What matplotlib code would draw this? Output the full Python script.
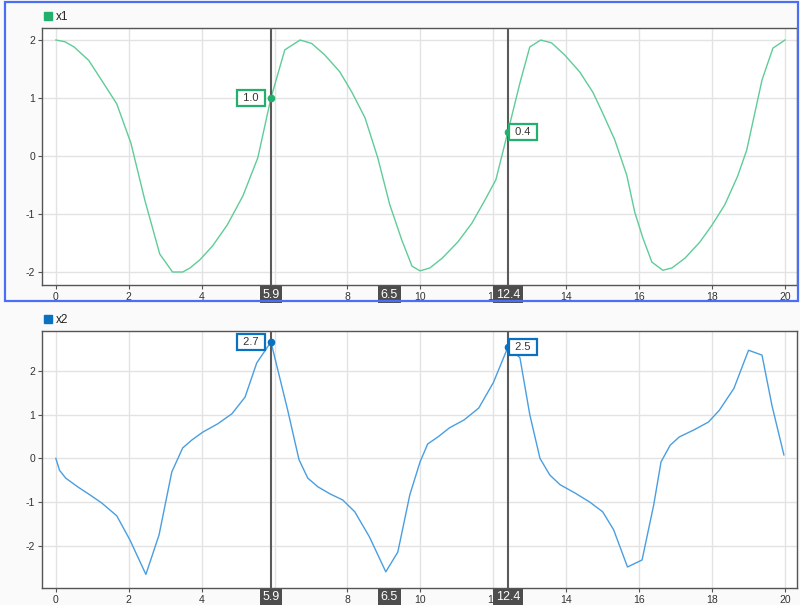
import numpy as np
import matplotlib
matplotlib.use("Agg")
from matplotlib import pyplot as plt
from matplotlib.lines import Line2D
from matplotlib.patches import Rectangle

plt.rcParams['font.family'] = ['Liberation Sans', 'DejaVu Sans']
plt.rcParams['axes.unicode_minus'] = False

# x1 信号
t1 = [0, 0.25, 0.5, 0.9, 1.2, 1.67, 2.06, 2.44, 2.85, 3.2, 3.48, 3.68, 3.95, 4.3, 4.7,
      5.13, 5.54, 5.9, 6.28, 6.7, 7.02, 7.38, 7.79, 8.12, 8.48, 8.83, 9.16, 9.49, 9.77,
      9.99, 10.26, 10.6, 11.03, 11.41, 11.77, 12.07, 12.4, 12.73, 13.0, 13.3, 13.6, 13.96,
      14.37, 14.73, 15.0, 15.33, 15.66, 15.88, 16.1, 16.35, 16.65, 16.9, 17.26, 17.67,
      18.0, 18.35, 18.7, 18.95, 19.37, 19.67, 20.0]
x1 = [2.0, 1.97, 1.88, 1.65, 1.36, 0.9, 0.22, -0.76, -1.69, -2.0, -2.0, -1.93, -1.79,
      -1.55, -1.19, -0.69, -0.03, 1.0, 1.83, 2.0, 1.94, 1.74, 1.45, 1.1, 0.66, -0.03,
      -0.84, -1.45, -1.9, -1.98, -1.93, -1.76, -1.48, -1.16, -0.76, -0.41, 0.42, 1.26,
      1.88, 2.0, 1.95, 1.74, 1.45, 1.1, 0.74, 0.28, -0.33, -0.97, -1.41, -1.83, -1.97,
      -1.93, -1.76, -1.48, -1.19, -0.84, -0.35, 0.1, 1.31, 1.86, 2.0]

# x2 信号
t2 = [0, 0.1, 0.27, 0.6, 0.93, 1.26, 1.67, 2.03, 2.47, 2.83, 3.18, 3.48, 3.73, 4.03,
      4.44, 4.83, 5.19, 5.51, 5.9, 6.36, 6.67, 6.91, 7.19, 7.52, 7.87, 8.2, 8.6, 9.05,
      9.38, 9.71, 9.99, 10.2, 10.48, 10.8, 11.2, 11.6, 12.0, 12.4, 12.73, 13.0, 13.28,
      13.55, 13.83, 14.24, 14.65, 15.0, 15.3, 15.68, 16.08, 16.4, 16.6, 16.85, 17.1,
      17.5, 17.9, 18.2, 18.6, 19.0, 19.37, 19.64, 19.97]
x2 = [0, -0.27, -0.45, -0.65, -0.83, -1.02, -1.31, -1.86, -2.65, -1.75, -0.31, 0.24,
      0.42, 0.6, 0.79, 1.02, 1.4, 2.18, 2.66, 1.1, -0.03, -0.45, -0.65, -0.81, -0.95,
      -1.22, -1.79, -2.59, -2.14, -0.83, -0.08, 0.33, 0.49, 0.7, 0.88, 1.15, 1.73, 2.54,
      2.3, 1.0, 0.0, -0.38, -0.6, -0.79, -1.0, -1.22, -1.63, -2.48, -2.32, -1.06, -0.08,
      0.3, 0.49, 0.65, 0.83, 1.1, 1.6, 2.47, 2.36, 1.22, 0.08]

# 游标位置及其读数
cursor_t = [5.9, 12.4]
cursor_x1 = [1.0, 0.42]
cursor_x2 = [2.66, 2.54]

xticks = list(range(0, 21, 2))
# 刻度 6 完全被 5.9 的游标标签盖住，不画
xticklabels = ['' if v == 6 else str(v) for v in xticks]
yticks = [-2, -1, 0, 1, 2]

fig = plt.figure(figsize=(8.0, 6.05), dpi=100, facecolor='#fafafa')
W, H = 800.0, 605.0


def px_axes(left, top, right, bottom):
    return fig.add_axes([left / W, 1 - bottom / H, (right - left) / W, (bottom - top) / H])


def draw_panel(ax, t, y, name, line_color, mark_color, ylim, marks):
    ax.set_facecolor('white')
    ax.plot(t, y, color=line_color, lw=1.0, zorder=3)
    ax.set_xlim(-0.38, 20.33)
    ax.set_ylim(*ylim)
    ax.set_xticks(xticks)
    ax.set_xticklabels(xticklabels)
    ax.set_yticks(yticks)
    ax.grid(True, color='#e3e3e3', lw=1.0)
    ax.set_axisbelow(True)
    for sp in ax.spines.values():
        sp.set_color('#555555')
        sp.set_linewidth(1.0)
    ax.tick_params(direction='out', length=3, width=0.8, color='#555555',
                   labelcolor='#333333', labelsize=7.5, pad=2)

    # 图例
    handle = Line2D([], [], marker='s', ls='none', color=mark_color, markersize=5.5, label=name)
    ax.legend(handles=[handle], loc='lower left', bbox_to_anchor=(-0.004, 1), frameon=False,
              handlelength=0.6, handletextpad=0.35, borderaxespad=0.45, borderpad=0.0,
              fontsize=8.5, labelcolor='#222222')

    # 游标线和数据点
    for i, (ct, cv) in enumerate(zip(cursor_t, marks)):
        ax.axvline(ct, color='#5a5a5a', lw=1.5, zorder=4)
        ax.plot(ct, cv, 'o', ms=4.5, color=mark_color, zorder=5)
        dx = -9 if i == 0 else 4
        ax.annotate(' %.1f ' % cv, xy=(ct, cv), xytext=(dx, 0), textcoords='offset pixels',
                    ha='right' if i == 0 else 'left', va='center', fontsize=8,
                    color='#333333', zorder=6,
                    bbox=dict(boxstyle='square,pad=0.28', fc='white', ec=mark_color, lw=1.6))

    # x 轴上的游标标签
    labels = [(cursor_t[0], '%.1f' % cursor_t[0]),
              ((cursor_t[0] + cursor_t[1]) / 2, '%.1f' % (cursor_t[1] - cursor_t[0])),
              (cursor_t[1], '%.1f' % cursor_t[1])]
    for xt, s in labels:
        ax.annotate(s, xy=(xt, 0), xycoords=ax.get_xaxis_transform(), xytext=(0, -3.5),
                    textcoords='offset pixels', ha='center', va='top', fontsize=9,
                    color='white', zorder=7, annotation_clip=False,
                    bbox=dict(boxstyle='square,pad=0.2', fc='#4d4d4d', ec='none'))


ax1 = px_axes(42, 28, 797, 285)
ax2 = px_axes(42, 331, 797, 588)

draw_panel(ax1, t1, x1, 'x1', '#5fcc98', '#22b06c', (-2.224, 2.207), cursor_x1)
draw_panel(ax2, t2, x2, 'x2', '#4a9ee0', '#0a70c0', (-2.96, 2.91), cursor_x2)

# 选中面板的蓝色边框
fig.patches.append(Rectangle((5 / W, 1 - 301 / H), 793 / W, 299 / H, transform=fig.transFigure,
                             fill=False, ec='#4b6ef5', lw=1.6, zorder=10))

plt.savefig('out.png', dpi=100, facecolor=fig.get_facecolor())
plt.close()
